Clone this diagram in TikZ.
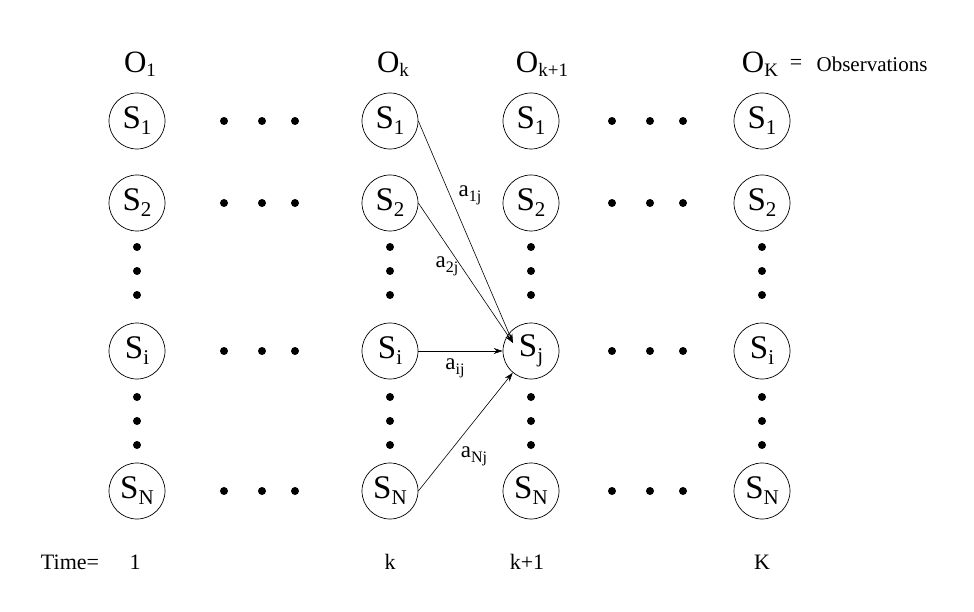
\documentclass[tikz,border=0pt]{standalone}
\usepackage{fontspec}
\setmainfont{Liberation Serif}
\usetikzlibrary{arrows.meta,calc}
\newcommand\Ssub[1]{S\raisebox{-6pt}{\fontsize{21}{21}\selectfont #1}}
\newcommand\Osub[1]{O\raisebox{-4pt}{\fontsize{19}{19}\selectfont #1}}
\newcommand\asub[1]{a\raisebox{-5pt}{\fontsize{16}{16}\selectfont #1}}
\begin{document}
\begin{tikzpicture}[x=1pt,y=-1pt,
  st/.style={circle,draw,line width=0.7pt,minimum size=56pt,inner sep=0pt,font=\fontsize{33}{33}\selectfont},
  dt/.style={circle,fill,inner sep=0pt,minimum size=8pt},
  obs/.style={font=\fontsize{31}{31}\selectfont,inner sep=0pt},
  txt/.style={font=\fontsize{22}{22}\selectfont,inner sep=0pt},
  lbl/.style={font=\fontsize{23}{23}\selectfont,inner sep=0pt},
  arr/.style={line width=0.6pt,-{Stealth[length=9pt,width=6pt]}}]
\useasboundingbox (0,0) rectangle (974,612);
% columns
\foreach \c/\x/\s in {a/137/i,b/390/i,c/531/j,d/762/i}{
  \node[st] (\c1) at (\x,121) {\Ssub{1}};
  \node[st] (\c2) at (\x,203) {\Ssub{2}};
  \node[st] (\c3) at (\x,351) {\Ssub{\s}};
  \node[st] (\c4) at (\x,491) {\Ssub{N}};
  \foreach \y [count=\n] in {247,271,295,397,421,445}
    \node[dt] (v\c\n) at (\x,\y) {};
}
% horizontal dots
\foreach \y [count=\r] in {121,203,351,491}{
  \foreach \x [count=\n] in {224,262,295}
    \node[dt] (hl\r\n) at (\x,\y) {};
  \foreach \x [count=\n] in {612,650,683}
    \node[dt] (hr\r\n) at (\x,\y) {};
}
% observation labels
\node[obs] (o1) at (140,64) {\Osub{1}};
\node[obs] (ok) at (393,64) {\Osub{k}};
\node[obs] (okp) at (542,64) {\Osub{k+1}};
\node[obs] (oK) at (760,64) {\Osub{K}};
\node[txt] (eq) at (796,64) {=};
\node[txt,font=\fontsize{21}{21}\selectfont] (obstxt) at (872,64) {Observations};
% arrows
\coordinate (tip) at ($(c3)+(-18,-8)$);
\draw[arr] (b1.east) -- (tip);
\draw[arr] (b2.east) -- (tip);
\draw[arr] (b3.east) -- (c3.west);
\draw[arr] (b4.east) -- (c3.230);
\node[lbl] (l1) at (470,195) {\asub{1j}};
\node[lbl] (l2) at (447,266) {\asub{2j}};
\node[lbl] (l3) at (455,368) {\asub{ij}};
\node[lbl] (l4) at (474,456) {\asub{Nj}};
% time
\node[txt] (time) at (70,562) {Time=};
\node[txt] (t1) at (135,562) {1};
\node[txt] (tk) at (390,562) {k};
\node[txt] (tk1) at (527,562) {k+1};
\node[txt] (tK) at (762,562) {K};
\end{tikzpicture}
\end{document}
